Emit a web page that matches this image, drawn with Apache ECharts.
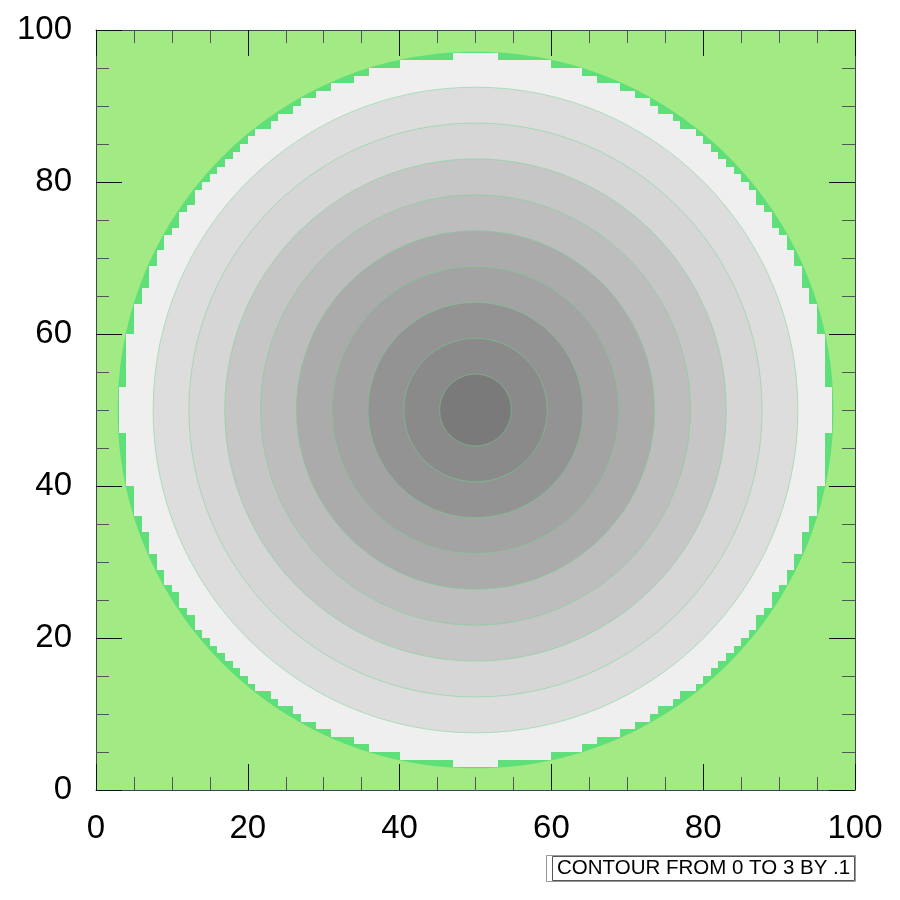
<!DOCTYPE html>
<html>
<head>
<meta charset="utf-8">
<title>Contour</title>
<script src="https://cdn.jsdelivr.net/npm/echarts@6.0.0/dist/echarts.min.js"></script>
<style>
  html, body { margin: 0; padding: 0; background: #fff; }
  #chart { width: 900px; height: 900px; }
</style>
</head>
<body>
<div id="chart"></div>
<script>
// tick labels on both axes
var tickValues = [0, 20, 40, 60, 80, 100];
// centre of the field
var centerX = 50;
var centerY = 50;
// contour radii (outer to inner)
var outerRadius = 47.15;
var levelRadii = [42.48, 37.76, 33.04, 28.32, 23.6, 18.88, 14.16, 9.44, 4.72];
// stepped outer band: half-height of each grid column, columns 3..49 (mirrored to 50..96)
var firstColumn = 3;
var columnHalfHeights = [3, 10, 14, 16, 19, 21, 23, 24, 26, 27,
  29, 30, 31, 32, 33, 34, 35, 36, 37, 37,
  38, 39, 39, 40, 41, 41, 42, 42, 43, 43,
  43, 44, 44, 45, 45, 45, 45, 46, 46, 46,
  46, 46, 46, 46, 47, 47, 47];
var labelText = 'CONTOUR FROM 0 TO 3 BY .1';

var levelColors = ['#dddddd', '#d6d6d6', '#c6c6c6', '#bdbdbd', '#ababab',
  '#a3a3a3', '#939393', '#8a8a8a', '#7a7a7a'];

var cellData = [];
columnHalfHeights.forEach(function (h, i) {
  cellData.push([firstColumn + i, h]);
  cellData.push([2 * centerX - 1 - (firstColumn + i), h]);
});
var bandData = levelRadii.map(function (r, i) { return [centerX, centerY, r, i]; });

var chart = echarts.init(document.getElementById('chart'));

function axisCommon(pos, showLabel) {
  return {
    type: 'value',
    position: pos,
    min: tickValues[0],
    max: tickValues[tickValues.length - 1],
    interval: tickValues[1] - tickValues[0],
    z: 10,
    splitLine: { show: false },
    axisLine: { show: true, onZero: false, lineStyle: { color: '#444', width: 1 } },
    axisTick: { show: true, inside: true, length: 26, lineStyle: { color: '#111', width: 1 } },
    minorTick: { show: true, splitNumber: 4, length: 13, lineStyle: { color: '#555', width: 1 } },
    axisLabel: {
      show: showLabel,
      color: '#000',
      fontSize: 33,
      fontFamily: 'Liberation Sans, Arial, sans-serif',
      margin: pos === 'left' ? 24 : 22
    }
  };
}

chart.setOption({
  animation: false,
  grid: {
    left: 96, right: 45, top: 30, bottom: 110,
    show: true, backgroundColor: '#a2ea83', borderWidth: 0
  },
  xAxis: [axisCommon('bottom', true), axisCommon('top', false)],
  yAxis: [axisCommon('left', true), axisCommon('right', false)],
  series: [
    {
      type: 'custom',
      silent: true,
      data: [[centerX, centerY, outerRadius]],
      renderItem: function (params, api) {
        var c = api.coord([api.value(0), api.value(1)]);
        var s = api.size([api.value(2), api.value(2)]);
        return {
          type: 'ellipse',
          shape: { cx: c[0], cy: c[1], rx: s[0], ry: s[1] },
          style: { fill: '#5fdf79' }
        };
      }
    },
    {
      type: 'custom',
      silent: true,
      data: cellData,
      renderItem: function (params, api) {
        var x0 = api.value(0), h = api.value(1);
        var p1 = api.coord([x0, centerY + h]);
        var p2 = api.coord([x0 + 1, centerY - h]);
        var x = Math.round(p1[0]), y = Math.round(p1[1]);
        return {
          type: 'rect',
          shape: { x: x, y: y, width: Math.round(p2[0]) - x, height: Math.round(p2[1]) - y },
          style: { fill: '#efefef' }
        };
      }
    },
    {
      type: 'custom',
      silent: true,
      data: bandData,
      renderItem: function (params, api) {
        var c = api.coord([api.value(0), api.value(1)]);
        var s = api.size([api.value(2), api.value(2)]);
        return {
          type: 'ellipse',
          shape: { cx: c[0], cy: c[1], rx: s[0], ry: s[1] },
          style: { fill: levelColors[api.value(3)], stroke: '#6cd68a', lineWidth: 0.5 }
        };
      }
    }
  ],
  graphic: [
    {
      type: 'rect',
      shape: { x: 546.5, y: 855.5, width: 309, height: 26 },
      style: { fill: '#fff', stroke: '#999', lineWidth: 1 }
    },
    {
      type: 'rect',
      shape: { x: 552.5, y: 856.5, width: 302, height: 24 },
      style: { fill: 'none', stroke: '#555', lineWidth: 1 }
    },
    {
      type: 'text',
      left: 557,
      top: 858,
      style: {
        text: labelText,
        fill: '#000',
        fontSize: 20.5,
        fontFamily: 'Liberation Sans, Arial, sans-serif'
      }
    }
  ]
});
</script>
</body>
</html>
